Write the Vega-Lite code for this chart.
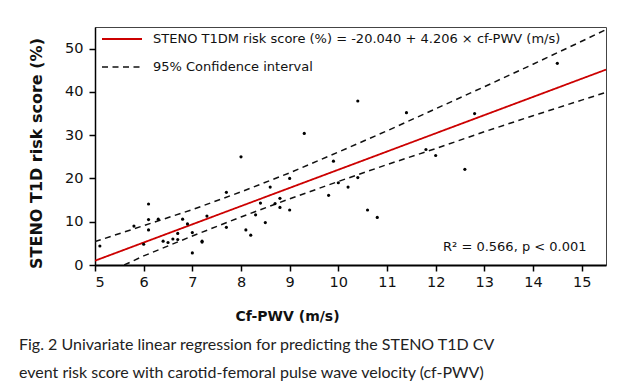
{
  "$schema": "https://vega.github.io/schema/vega-lite/v6.json",
  "autosize": {"type": "none"},
  "width": 511,
  "height": 238,
  "padding": {"left": 95, "top": 27, "right": 21, "bottom": 127},
  "background": "white",
  "config": {
    "font": "DejaVu Sans",
    "view": {"stroke": "#444", "strokeWidth": 1}
  },
  "title": {
    "text": ["Fig. 2  Univariate linear regression for predicting the STENO T1D CV", "event risk score with carotid-femoral pulse wave velocity (cf-PWV)"],
    "orient": "bottom",
    "anchor": "start",
    "frame": "group",
    "dx": -76,
    "offset": 13,
    "font": "Lato",
    "fontSize": 16,
    "fontWeight": "normal",
    "lineHeight": 28,
    "color": "#222"
  },
  "datasets": {
    "points": [
      {"x": 5.1, "y": 4.4}, {"x": 5.8, "y": 9.0}, {"x": 6.0, "y": 4.8}, {"x": 6.1, "y": 14.1},
      {"x": 6.1, "y": 10.5}, {"x": 6.1, "y": 8.1}, {"x": 6.3, "y": 10.6}, {"x": 6.4, "y": 5.5},
      {"x": 6.5, "y": 5.2}, {"x": 6.6, "y": 6.0}, {"x": 6.7, "y": 7.3}, {"x": 6.7, "y": 5.9},
      {"x": 6.8, "y": 10.6}, {"x": 6.9, "y": 9.5}, {"x": 7.0, "y": 7.5}, {"x": 7.0, "y": 2.8},
      {"x": 7.2, "y": 5.5}, {"x": 7.2, "y": 5.3}, {"x": 7.3, "y": 11.3}, {"x": 7.7, "y": 16.8},
      {"x": 7.7, "y": 8.7}, {"x": 8.0, "y": 25.0}, {"x": 8.1, "y": 8.1}, {"x": 8.2, "y": 6.9},
      {"x": 8.3, "y": 11.6}, {"x": 8.4, "y": 14.3}, {"x": 8.5, "y": 9.8}, {"x": 8.6, "y": 18.0},
      {"x": 8.7, "y": 14.2}, {"x": 8.8, "y": 15.4}, {"x": 8.8, "y": 13.3}, {"x": 9.0, "y": 20.0},
      {"x": 9.0, "y": 12.7}, {"x": 9.3, "y": 30.4}, {"x": 9.8, "y": 16.1}, {"x": 9.9, "y": 24.0},
      {"x": 10.0, "y": 19.0}, {"x": 10.2, "y": 18.0}, {"x": 10.4, "y": 37.9}, {"x": 10.4, "y": 20.2},
      {"x": 10.6, "y": 12.7}, {"x": 10.8, "y": 11.0}, {"x": 11.4, "y": 35.2}, {"x": 11.8, "y": 26.7},
      {"x": 12.0, "y": 25.3}, {"x": 12.6, "y": 22.1}, {"x": 12.8, "y": 35.0}, {"x": 14.5, "y": 46.6}
    ],
    "lines": [
      {"series": "STENO T1DM risk score (%) = -20.040 + 4.206 × cf-PWV (m/s)", "line": "fit", "x": 5, "y": 0.99},
      {"series": "STENO T1DM risk score (%) = -20.040 + 4.206 × cf-PWV (m/s)", "line": "fit", "x": 15.5, "y": 45.15},
      {"series": "95% Confidence interval", "line": "upper", "x": 5, "y": 5.4},
      {"series": "95% Confidence interval", "line": "upper", "x": 6, "y": 9.1},
      {"series": "95% Confidence interval", "line": "upper", "x": 7, "y": 12.8},
      {"series": "95% Confidence interval", "line": "upper", "x": 8, "y": 16.9},
      {"series": "95% Confidence interval", "line": "upper", "x": 9, "y": 21.3},
      {"series": "95% Confidence interval", "line": "upper", "x": 10, "y": 26.1},
      {"series": "95% Confidence interval", "line": "upper", "x": 11, "y": 31.0},
      {"series": "95% Confidence interval", "line": "upper", "x": 12, "y": 36.1},
      {"series": "95% Confidence interval", "line": "upper", "x": 13, "y": 41.2},
      {"series": "95% Confidence interval", "line": "upper", "x": 14, "y": 46.4},
      {"series": "95% Confidence interval", "line": "upper", "x": 15, "y": 51.7},
      {"series": "95% Confidence interval", "line": "upper", "x": 15.5, "y": 54.4},
      {"series": "95% Confidence interval", "line": "lower", "x": 5.6, "y": 0},
      {"series": "95% Confidence interval", "line": "lower", "x": 6, "y": 2.1},
      {"series": "95% Confidence interval", "line": "lower", "x": 7, "y": 6.7},
      {"series": "95% Confidence interval", "line": "lower", "x": 8, "y": 11.1},
      {"series": "95% Confidence interval", "line": "lower", "x": 9, "y": 15.3},
      {"series": "95% Confidence interval", "line": "lower", "x": 10, "y": 19.3},
      {"series": "95% Confidence interval", "line": "lower", "x": 11, "y": 23.2},
      {"series": "95% Confidence interval", "line": "lower", "x": 12, "y": 26.9},
      {"series": "95% Confidence interval", "line": "lower", "x": 13, "y": 30.8},
      {"series": "95% Confidence interval", "line": "lower", "x": 14, "y": 34.5},
      {"series": "95% Confidence interval", "line": "lower", "x": 15, "y": 38.1},
      {"series": "95% Confidence interval", "line": "lower", "x": 15.5, "y": 39.9}
    ]
  },
  "layer": [
    {
      "data": {"name": "lines"},
      "mark": {"type": "line", "clip": true},
      "encoding": {
        "x": {
          "field": "x", "type": "quantitative",
          "scale": {"domain": [5, 15.5], "nice": false, "zero": false},
          "axis": {
            "values": [5, 6, 7, 8, 9, 10, 11, 12, 13, 14, 15],
            "grid": false, "domainColor": "black", "domainWidth": 2,
            "tickColor": "black", "tickWidth": 1.5, "tickSize": 6,
            "labelFontSize": 14.5, "labelColor": "#111", "labelPadding": 4,
            "title": "Cf-PWV (m/s)", "titleFontSize": 14, "titleFontWeight": "bold",
            "titleColor": "#111", "titleX": 192, "titlePadding": 21
          }
        },
        "y": {
          "field": "y", "type": "quantitative",
          "scale": {"domain": [0, 55], "nice": false},
          "axis": {
            "values": [0, 5, 10, 15, 20, 25, 30, 35, 40, 45, 50],
            "labelExpr": "datum.value % 10 === 0 ? datum.label : ''",
            "grid": false, "domainColor": "black", "domainWidth": 1.5,
            "tickColor": "black", "tickWidth": 1.5, "tickSize": 6,
            "labelFontSize": 14.5, "labelColor": "#111", "labelPadding": 6,
            "title": "STENO T1D risk score (%)", "titleFontSize": 16, "titleFontWeight": "bold",
            "titleColor": "#111", "titlePadding": 20, "titleY": 126
          }
        },
        "detail": {"field": "line"},
        "color": {
          "field": "series", "type": "nominal",
          "scale": {"domain": ["STENO T1DM risk score (%) = -20.040 + 4.206 × cf-PWV (m/s)", "95% Confidence interval"], "range": ["#cc0000", "#111111"]},
          "legend": {
            "title": null, "orient": "none", "legendX": 6, "legendY": -9,
            "symbolType": "stroke", "symbolSize": 1600, "symbolStrokeWidth": 2,
            "labelFontSize": 13, "labelColor": "#111", "labelOffset": 10,
            "rowPadding": -11, "padding": 0, "labelLimit": 600
          }
        },
        "strokeDash": {
          "field": "series", "type": "nominal",
          "scale": {"domain": ["STENO T1DM risk score (%) = -20.040 + 4.206 × cf-PWV (m/s)", "95% Confidence interval"], "range": [[1, 0], [6, 4.5]]},
          "legend": {
            "title": null, "orient": "none", "legendX": 6, "legendY": -9,
            "symbolType": "stroke", "symbolSize": 1600, "symbolStrokeWidth": 2,
            "labelFontSize": 13, "labelColor": "#111", "labelOffset": 10,
            "rowPadding": -11, "padding": 0, "labelLimit": 600
          }
        },
        "strokeWidth": {
          "field": "series", "type": "nominal",
          "scale": {"domain": ["STENO T1DM risk score (%) = -20.040 + 4.206 × cf-PWV (m/s)", "95% Confidence interval"], "range": [1.8, 1.5]},
          "legend": null
        }
      }
    },
    {
      "data": {"name": "points"},
      "mark": {"type": "circle", "size": 10, "color": "#000", "opacity": 1},
      "encoding": {
        "x": {"field": "x", "type": "quantitative"},
        "y": {"field": "y", "type": "quantitative"}
      }
    },
    {
      "data": {"values": [{"label": "R² = 0.566, p < 0.001"}]},
      "mark": {"type": "text", "align": "right", "baseline": "middle", "fontSize": 13, "fill": "#111"},
      "encoding": {
        "x": {"datum": 15.1, "type": "quantitative"},
        "y": {"datum": 4.2, "type": "quantitative"},
        "text": {"field": "label", "type": "nominal"}
      }
    }
  ]
}
